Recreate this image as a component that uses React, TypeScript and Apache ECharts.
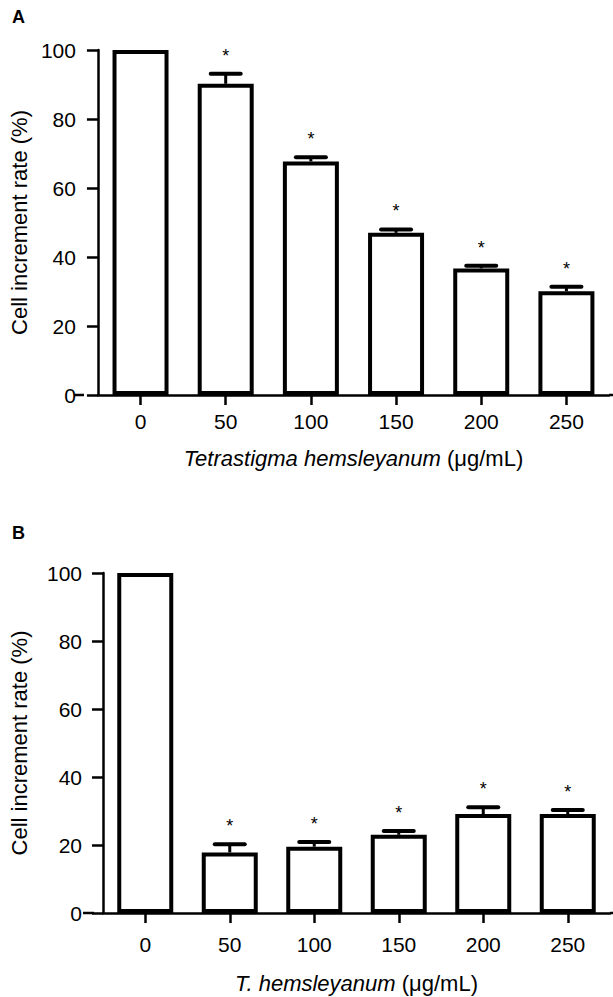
import React, { useEffect, useRef } from "react";
import * as echarts from "echarts";

const doses = ["0", "50", "100", "150", "200", "250"];
const yTicks = [0, 20, 40, 60, 80, 100];

// Panel A: Tetrastigma hemsleyanum
const valuesA = [100, 90.2, 67.7, 47.0, 36.7, 30.1];
const errorsA = [0, 2.9, 1.2, 1.0, 0.8, 1.3];
const signifA = [false, true, true, true, true, true];

// Panel B: T. hemsleyanum
const valuesB = [100, 17.8, 19.5, 23.0, 29.1, 29.1];
const errorsB = [0, 2.4, 1.4, 1.1, 2.0, 1.2];
const signifB = [false, true, true, true, true, true];

const FONT = '"Liberation Sans", Arial, Helvetica, sans-serif';

const GA = { left: 84, top: 50, width: 525, height: 345 };
const GB = { left: 94, top: 573, width: 516, height: 340 };

function errorSeries(idx: number, vals: number[], errs: number[], sig: boolean[]) {
  return {
    type: "custom",
    xAxisIndex: idx,
    yAxisIndex: idx,
    data: vals.map((v, i) => [i, v, errs[i], sig[i] ? 1 : 0]),
    clip: false,
    silent: true,
    z: 5,
    renderItem: (params: any, api: any) => {
      const i = api.value(0);
      const v = api.value(1);
      const e = api.value(2);
      const s = api.value(3);
      const p0 = api.coord([i, v]);
      const p1 = api.coord([i, v + e]);
      const children: any[] = [];
      if (e > 0) {
        children.push({
          type: "line",
          shape: { x1: p0[0], y1: p0[1], x2: p1[0], y2: p1[1] },
          style: { stroke: "#000", lineWidth: 3 },
        });
        children.push({
          type: "line",
          shape: { x1: p1[0] - 15, y1: p1[1], x2: p1[0] + 15, y2: p1[1] },
          style: { stroke: "#000", lineWidth: 4, lineCap: "round" },
        });
      }
      if (s) {
        children.push({
          type: "text",
          x: p1[0],
          y: p1[1] - 18,
          style: {
            text: "*",
            fontSize: 18,
            fontFamily: FONT,
            fill: "#000",
            align: "center",
            verticalAlign: "middle",
          },
        });
      }
      return { type: "group", children };
    },
  };
}

function barSeries(idx: number, vals: number[]) {
  return {
    type: "bar",
    xAxisIndex: idx,
    yAxisIndex: idx,
    data: vals,
    barWidth: 56,
    z: 3,
    itemStyle: { color: "#fff", borderColor: "#000", borderWidth: 4 },
  };
}

function xAxis(idx: number, name: string, nameGap: number, margin: number) {
  return {
    type: "category",
    gridIndex: idx,
    data: doses,
    boundaryGap: true,
    axisLine: { show: true, lineStyle: { color: "#000", width: 2.5 } },
    axisTick: { show: true, alignWithLabel: true, length: 10, lineStyle: { color: "#000", width: 2.5 } },
    axisLabel: { color: "#000", fontSize: 21, fontFamily: FONT, margin },
    name,
    nameLocation: "middle",
    nameGap,
    nameTextStyle: { color: "#000", fontSize: 22, fontFamily: FONT },
    splitLine: { show: false },
  };
}

function yAxis(idx: number, nameGap: number, margin: number) {
  return {
    type: "value",
    gridIndex: idx,
    min: yTicks[0],
    max: yTicks[yTicks.length - 1],
    interval: yTicks[1] - yTicks[0],
    axisLine: { show: true, lineStyle: { color: "#000", width: 2.5 } },
    axisTick: { show: true, length: 11, lineStyle: { color: "#000", width: 2.5 } },
    axisLabel: { color: "#000", fontSize: 21, fontFamily: FONT, margin },
    splitLine: { show: false },
    name: "Cell increment rate (%)",
    nameLocation: "middle",
    nameGap,
    nameTextStyle: { color: "#000", fontSize: 22, fontFamily: FONT },
  };
}

export default function App() {
  const ref = useRef<HTMLDivElement>(null);

  useEffect(() => {
    document.body.style.margin = "0";
    if (!ref.current) return;
    const chart = echarts.init(ref.current, undefined, { renderer: "svg" });
    const italicRich = {};
    chart.setOption({
      animation: false,
      backgroundColor: "#fff",
      title: [
        {
          text: "A",
          left: 7,
          top: 3,
          textStyle: { fontSize: 18, fontWeight: "bold", fontFamily: FONT, color: "#000" },
        },
        {
          text: "B",
          left: 7,
          top: 519,
          textStyle: { fontSize: 18, fontWeight: "bold", fontFamily: FONT, color: "#000" },
        },
      ],
      grid: [
        { left: GA.left, top: GA.top, width: GA.width, height: GA.height },
        { left: GB.left, top: GB.top, width: GB.width, height: GB.height },
      ],
      xAxis: [
        {
          ...xAxis(0, "{i|Tetrastigma hemsleyanum} (μg/mL)", 52, 16),
          nameTextStyle: {
            color: "#000",
            fontSize: 22,
            fontFamily: FONT,
            rich: { i: { fontStyle: "italic", fontSize: 22, fontFamily: FONT, color: "#000" } },
          },
        },
        {
          ...xAxis(1, "{i|T. hemsleyanum} (μg/mL)", 59, 21),
          nameTextStyle: {
            color: "#000",
            fontSize: 22,
            fontFamily: FONT,
            rich: { i: { fontStyle: "italic", fontSize: 22, fontFamily: FONT, color: "#000" } },
          },
        },
      ],
      yAxis: [yAxis(0, 62, 22), yAxis(1, 73, 21)],
      graphic: [
        {
          type: "line",
          shape: { x1: GA.left - 10, y1: GA.top + GA.height, x2: GA.left, y2: GA.top + GA.height },
          style: { stroke: "#000", lineWidth: 2.5 },
        },
        {
          type: "line",
          shape: { x1: GA.left + GA.width, y1: GA.top + GA.height, x2: 613, y2: GA.top + GA.height },
          style: { stroke: "#000", lineWidth: 2.5 },
        },
        {
          type: "line",
          shape: { x1: GB.left - 11, y1: GB.top + GB.height, x2: GB.left, y2: GB.top + GB.height },
          style: { stroke: "#000", lineWidth: 2.5 },
        },
        {
          type: "line",
          shape: { x1: GB.left + GB.width, y1: GB.top + GB.height, x2: 613, y2: GB.top + GB.height },
          style: { stroke: "#000", lineWidth: 2.5 },
        },
      ],
      series: [
        barSeries(0, valuesA),
        errorSeries(0, valuesA, errorsA, signifA),
        barSeries(1, valuesB),
        errorSeries(1, valuesB, errorsB, signifB),
      ],
    });
    void italicRich;
    return () => chart.dispose();
  }, []);

  return <div ref={ref} style={{ width: 613, height: 997 }} />;
}
